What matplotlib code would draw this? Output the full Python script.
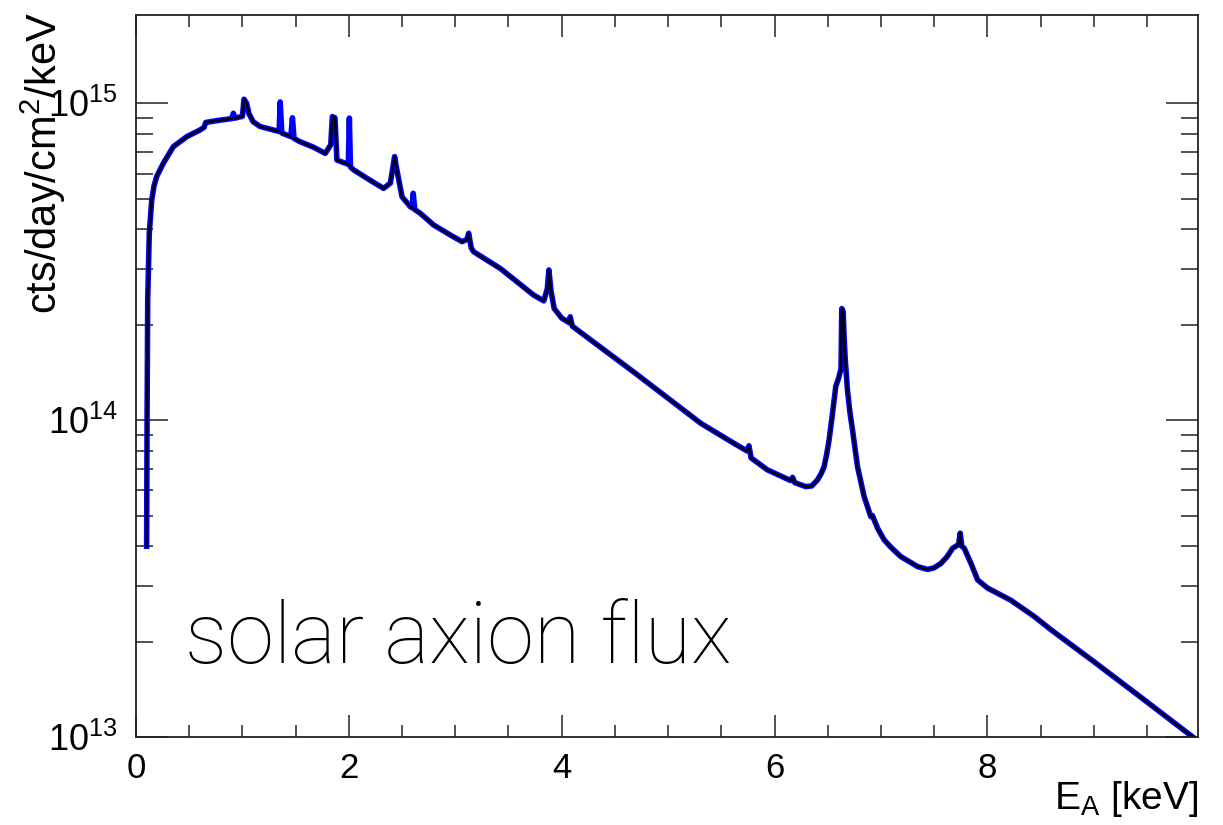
import numpy as np
import matplotlib
matplotlib.use('Agg')
import matplotlib.pyplot as plt
from matplotlib.ticker import MultipleLocator, LogLocator, NullFormatter

plt.rcParams['font.family'] = ['Liberation Sans', 'DejaVu Sans']
plt.rcParams['mathtext.fontset'] = 'custom'
plt.rcParams['mathtext.rm'] = 'Liberation Sans'
plt.rcParams['mathtext.default'] = 'regular'

# energy [keV] and flux [cts/day/cm2/keV]
energy = [0.100, 0.104, 0.110, 0.125, 0.148, 0.170, 0.195, 0.257, 0.351, 0.477,
          0.602, 0.640, 0.655, 0.76, 0.90, 0.915, 0.93, 1.00, 1.015, 1.04,
          1.06, 1.10, 1.167, 1.29, 1.345, 1.355, 1.37, 1.455, 1.47, 1.485,
          1.54, 1.668, 1.778, 1.83, 1.845, 1.87, 1.888, 1.995, 2.005, 2.015,
          2.044, 2.17, 2.326, 2.39, 2.43, 2.45, 2.5, 2.577, 2.595, 2.605,
          2.62, 2.67, 2.797, 2.954, 3.064, 3.11, 3.126, 3.15, 3.173, 3.424,
          3.738, 3.832, 3.865, 3.88, 3.90, 3.93, 4.0, 4.07, 4.08, 4.10,
          4.7, 5.306, 5.619, 5.74, 5.76, 5.78, 5.933, 6.15, 6.17, 6.19,
          6.293, 6.35, 6.403, 6.44, 6.466, 6.49, 6.513, 6.545, 6.576, 6.60,
          6.625, 6.632, 6.645, 6.655, 6.665, 6.686, 6.71, 6.733, 6.78, 6.842,
          6.905, 6.92, 6.97, 7.03, 7.10, 7.187, 7.344, 7.438, 7.50, 7.563,
          7.62, 7.673, 7.73, 7.745, 7.76, 7.783, 7.846, 7.909, 8.003, 8.222,
          8.441, 8.598, 9.0, 9.5, 9.93]
flux = [4.0e13, 1.0e14, 2.4e14, 3.9e14, 4.96e14, 5.5e14, 5.88e14, 6.47e14, 7.3e14, 7.85e14,
        8.24e14, 8.4e14, 8.7e14, 8.82e14, 8.95e14, 9.3e14, 8.98e14, 9.1e14, 1.03e15, 1.0e15,
        9.3e14, 8.75e14, 8.45e14, 8.24e14, 8.15e14, 1.01e15, 8.06e14, 7.85e14, 9.0e14, 7.75e14,
        7.57e14, 7.27e14, 6.95e14, 7.4e14, 9.08e14, 9.0e14, 6.62e14, 6.42e14, 8.98e14, 6.3e14,
        6.17e14, 5.8e14, 5.39e14, 5.6e14, 6.79e14, 6.2e14, 5.07e14, 4.72e14, 4.68e14, 5.2e14,
        4.62e14, 4.5e14, 4.13e14, 3.84e14, 3.66e14, 3.72e14, 3.89e14, 3.5e14, 3.4e14, 3.01e14,
        2.48e14, 2.38e14, 2.6e14, 2.98e14, 2.55e14, 2.25e14, 2.1e14, 2.03e14, 2.12e14, 1.98e14,
        1.40e14, 9.78e13, 8.45e13, 8.0e13, 8.3e13, 7.6e13, 6.97e13, 6.45e13, 6.6e13, 6.35e13,
        6.17e13, 6.2e13, 6.47e13, 6.8e13, 7.13e13, 7.8e13, 8.66e13, 1.05e14, 1.28e14, 1.35e14,
        1.45e14, 2.25e14, 2.2e14, 1.8e14, 1.55e14, 1.24e14, 1.05e14, 9.31e13, 7.13e13, 5.74e13,
        4.96e13, 5.0e13, 4.55e13, 4.19e13, 3.95e13, 3.71e13, 3.45e13, 3.38e13, 3.42e13, 3.53e13,
        3.7e13, 3.94e13, 4.05e13, 4.4e13, 4.0e13, 3.94e13, 3.53e13, 3.13e13, 2.95e13, 2.7e13,
        2.4e13, 2.18e13, 1.73e13, 1.29e13, 1.0e13]
# narrow lines that show only in the blue band
spikes = [0.915, 1.355, 1.47, 2.005, 2.605]

E = np.array(energy)
F = np.array(flux)
F_black = np.where(np.isin(E, spikes), np.nan, F)

fig = plt.figure(figsize=(12.23, 8.25), dpi=100)
ax = fig.add_axes([0.1112, 0.1067, 0.8684, 0.8751])

ax.plot(E, F, color='#0000ff', lw=4)
ax.plot(E, F_black, color='black', lw=1.7)

ax.set_yscale('log')
ax.set_xlim(0, 9.98)
ax.set_ylim(1e13, 1.9e15)

ax.xaxis.set_major_locator(MultipleLocator(2))
ax.xaxis.set_minor_locator(MultipleLocator(0.5))
ax.yaxis.set_major_locator(LogLocator(base=10))
ax.yaxis.set_minor_locator(LogLocator(base=10, subs=np.arange(2, 10)))
ax.yaxis.set_minor_formatter(NullFormatter())

ax.tick_params(which='both', direction='in', top=True, right=True, width=1.1, color='#222222')
ax.tick_params(axis='x', which='major', length=16, pad=11, labelsize=25)
ax.tick_params(axis='x', which='minor', length=8.5)
ax.tick_params(axis='y', which='major', length=23, pad=13, labelsize=26)
ax.tick_params(axis='y', which='minor', length=12)
for s in ax.spines.values():
    s.set_linewidth(1.3)
    s.set_color('#222222')

ax.set_xlabel('E$_A$ [keV]', fontsize=28, loc='right')
ax.xaxis.set_label_coords(1.0, -0.058)
ax.set_ylabel('cts/day/cm$^2$/keV', fontsize=30, loc='top')
ax.yaxis.set_label_coords(-0.064, 1.004)

ax.text(0.046, 0.1025, 'solar axion flux', transform=ax.transAxes,
        fontsize=61, family=['Roboto', 'DejaVu Sans'], fontweight='light', va='baseline')

fig.savefig('out.png', dpi=100)
